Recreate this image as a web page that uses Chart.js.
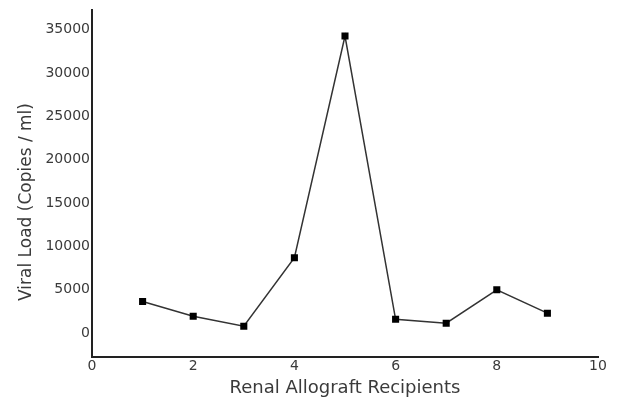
<!DOCTYPE html>
<html>
<head>
<meta charset="utf-8">
<script src="https://cdn.jsdelivr.net/npm/chart.js@4"></script>
<style>
  html, body { margin: 0; padding: 0; background: #fff; }
  #wrap { width: 619px; height: 401px; }
</style>
</head>
<body>
<div id="wrap"><canvas id="viralChart" width="619" height="401"></canvas></div>
<script>
// data
const recipients = [1, 2, 3, 4, 5, 6, 7, 8, 9];
const viralLoad = [3650, 1950, 800, 8700, 34250, 1600, 1150, 5000, 2300];
const xTicks = [0, 2, 4, 6, 8, 10];
const yTicks = [0, 5000, 10000, 15000, 20000, 25000, 30000, 35000];
const yTitle = 'Viral Load (Copies / ml)';
const xTitle = 'Renal Allograft Recipients';

document.addEventListener("DOMContentLoaded", function () {
    const ctx = document.getElementById("viralChart");
    const points = recipients.map((r, i) => ({ x: r, y: viralLoad[i] }));
    const tickFont = { family: "'DejaVu Sans', sans-serif", size: 14 };
    const titleFont = { family: "'DejaVu Sans', sans-serif", size: 18 };

    // y title sits a bit below the middle of the axis in the original, so draw it by hand
    const yTitlePlugin = {
        id: 'yTitle',
        afterDraw(chart) {
            const c = chart.ctx;
            c.save();
            c.translate(27, 202);
            c.rotate(-Math.PI / 2);
            c.font = "17px 'DejaVu Sans', sans-serif";
            c.fillStyle = '#3a3a3a';
            c.textAlign = 'center';
            c.textBaseline = 'middle';
            c.fillText(yTitle, 0, 0);
            c.restore();
        }
    };

    new Chart(ctx, {
        type: 'line',
        data: {
            datasets: [{
                label: 'Viral Load',
                data: points,
                borderColor: '#333',
                borderWidth: 1.5,
                backgroundColor: '#000',
                pointStyle: 'rect',
                pointRadius: 5,
                pointBorderWidth: 0,
                tension: 0
            }]
        },
        plugins: [yTitlePlugin],
        options: {
            responsive: false,
            animation: false,
            layout: { padding: { top: 8, right: 21, left: 0, bottom: 0 } },
            plugins: { legend: { display: false }, tooltip: { enabled: false } },
            scales: {
                x: {
                    type: 'linear',
                    min: 0,
                    max: 10,
                    afterBuildTicks: (s) => { s.ticks = xTicks.map(v => ({ value: v })); },
                    afterFit: (s) => { s.height = 401 - 357; },
                    grid: { display: false, drawTicks: false },
                    border: { display: true, color: '#222', width: 2 },
                    ticks: { color: '#3a3a3a', font: tickFont, padding: 1, maxRotation: 0, callback: v => String(v) },
                    title: { display: true, text: xTitle, color: '#3a3a3a', font: titleFont, padding: { top: 0, bottom: 2 } }
                },
                y: {
                    min: -2750,
                    max: 37200,
                    afterBuildTicks: (s) => { s.ticks = yTicks.map(v => ({ value: v })); },
                    afterFit: (s) => { s.width = 92; },
                    grid: { display: false, drawTicks: false },
                    border: { display: true, color: '#222', width: 2 },
                    ticks: { color: '#3a3a3a', font: tickFont, padding: 2, callback: v => String(v) },
                    title: { display: false }
                }
            }
        }
    });
});
</script>
</body>
</html>
